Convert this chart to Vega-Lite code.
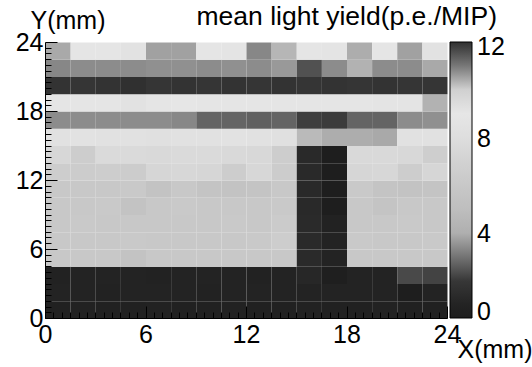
{
"$schema": "https://vega.github.io/schema/vega-lite/v6.json",
"width": 402, "height": 276,
"autosize": "none",
"padding": {"left": 45, "top": 42, "right": 85, "bottom": 49},
"background": "white",
"config": {"font": "Liberation Sans", "view": {"stroke": null}},
"title": {"text": "mean light yield(p.e./MIP)", "anchor": "end", "frame": "group", "dx": 50, "fontSize": 26.5, "fontWeight": "normal", "color": "black", "baseline": "alphabetic", "offset": -43},
"data": {"values": [
{"x":0,"y":0,"v":0.8},{"x":1.5,"y":0,"v":0.9},{"x":3,"y":0,"v":0.8},{"x":4.5,"y":0,"v":0.8},{"x":6,"y":0,"v":0.9},{"x":7.5,"y":0,"v":0.8},{"x":9,"y":0,"v":0.8},{"x":10.5,"y":0,"v":0.9},{"x":12,"y":0,"v":0.8},{"x":13.5,"y":0,"v":0.8},{"x":15,"y":0,"v":0.9},{"x":16.5,"y":0,"v":0.8},{"x":18,"y":0,"v":0.8},{"x":19.5,"y":0,"v":0.9},{"x":21,"y":0,"v":0.8},{"x":22.5,"y":0,"v":0.8},
{"x":0,"y":1.5,"v":1.0},{"x":1.5,"y":1.5,"v":1.0},{"x":3,"y":1.5,"v":0.9},{"x":4.5,"y":1.5,"v":1.0},{"x":6,"y":1.5,"v":1.0},{"x":7.5,"y":1.5,"v":1.0},{"x":9,"y":1.5,"v":0.9},{"x":10.5,"y":1.5,"v":1.0},{"x":12,"y":1.5,"v":1.0},{"x":13.5,"y":1.5,"v":1.0},{"x":15,"y":1.5,"v":1.0},{"x":16.5,"y":1.5,"v":1.0},{"x":18,"y":1.5,"v":1.0},{"x":19.5,"y":1.5,"v":1.0},{"x":21,"y":1.5,"v":0.5},{"x":22.5,"y":1.5,"v":1.0},
{"x":0,"y":3,"v":0.9},{"x":1.5,"y":3,"v":1.0},{"x":3,"y":3,"v":1.0},{"x":4.5,"y":3,"v":1.0},{"x":6,"y":3,"v":0.9},{"x":7.5,"y":3,"v":1.0},{"x":9,"y":3,"v":1.0},{"x":10.5,"y":3,"v":1.0},{"x":12,"y":3,"v":0.9},{"x":13.5,"y":3,"v":1.0},{"x":15,"y":3,"v":1.3},{"x":16.5,"y":3,"v":0.6},{"x":18,"y":3,"v":1.0},{"x":19.5,"y":3,"v":1.0},{"x":21,"y":3,"v":2.3},{"x":22.5,"y":3,"v":2.2},
{"x":0,"y":4.5,"v":6.0},{"x":1.5,"y":4.5,"v":6.0},{"x":3,"y":4.5,"v":6.0},{"x":4.5,"y":4.5,"v":5.5},{"x":6,"y":4.5,"v":6.0},{"x":7.5,"y":4.5,"v":6.0},{"x":9,"y":4.5,"v":6.0},{"x":10.5,"y":4.5,"v":6.0},{"x":12,"y":4.5,"v":6.0},{"x":13.5,"y":4.5,"v":6.0},{"x":15,"y":4.5,"v":1.5},{"x":16.5,"y":4.5,"v":1.0},{"x":18,"y":4.5,"v":6.0},{"x":19.5,"y":4.5,"v":6.0},{"x":21,"y":4.5,"v":6.0},{"x":22.5,"y":4.5,"v":6.0},
{"x":0,"y":6,"v":6.0},{"x":1.5,"y":6,"v":6.0},{"x":3,"y":6,"v":6.0},{"x":4.5,"y":6,"v":6.1},{"x":6,"y":6,"v":6.0},{"x":7.5,"y":6,"v":6.0},{"x":9,"y":6,"v":6.0},{"x":10.5,"y":6,"v":6.0},{"x":12,"y":6,"v":6.1},{"x":13.5,"y":6,"v":6.5},{"x":15,"y":6,"v":1.5},{"x":16.5,"y":6,"v":1.0},{"x":18,"y":6,"v":6.1},{"x":19.5,"y":6,"v":6.0},{"x":21,"y":6,"v":6.0},{"x":22.5,"y":6,"v":6.1},
{"x":0,"y":7.5,"v":6.0},{"x":1.5,"y":7.5,"v":6.1},{"x":3,"y":7.5,"v":6.0},{"x":4.5,"y":7.5,"v":6.0},{"x":6,"y":7.5,"v":6.0},{"x":7.5,"y":7.5,"v":6.0},{"x":9,"y":7.5,"v":6.0},{"x":10.5,"y":7.5,"v":6.1},{"x":12,"y":7.5,"v":6.0},{"x":13.5,"y":7.5,"v":6.3},{"x":15,"y":7.5,"v":1.5},{"x":16.5,"y":7.5,"v":0.9},{"x":18,"y":7.5,"v":6.0},{"x":19.5,"y":7.5,"v":6.0},{"x":21,"y":7.5,"v":6.1},{"x":22.5,"y":7.5,"v":6.0},
{"x":0,"y":9,"v":6.0},{"x":1.5,"y":9,"v":6.0},{"x":3,"y":9,"v":6.1},{"x":4.5,"y":9,"v":5.5},{"x":6,"y":9,"v":6.0},{"x":7.5,"y":9,"v":6.1},{"x":9,"y":9,"v":6.0},{"x":10.5,"y":9,"v":6.0},{"x":12,"y":9,"v":6.0},{"x":13.5,"y":9,"v":6.1},{"x":15,"y":9,"v":1.4},{"x":16.5,"y":9,"v":0.5},{"x":18,"y":9,"v":6.0},{"x":19.5,"y":9,"v":5.6},{"x":21,"y":9,"v":6.0},{"x":22.5,"y":9,"v":6.0},
{"x":0,"y":10.5,"v":6.0},{"x":1.5,"y":10.5,"v":6.0},{"x":3,"y":10.5,"v":6.0},{"x":4.5,"y":10.5,"v":6.1},{"x":6,"y":10.5,"v":5.5},{"x":7.5,"y":10.5,"v":6.0},{"x":9,"y":10.5,"v":5.6},{"x":10.5,"y":10.5,"v":5.5},{"x":12,"y":10.5,"v":5.6},{"x":13.5,"y":10.5,"v":6.0},{"x":15,"y":10.5,"v":1.4},{"x":16.5,"y":10.5,"v":0.5},{"x":18,"y":10.5,"v":6.1},{"x":19.5,"y":10.5,"v":5.6},{"x":21,"y":10.5,"v":5.5},{"x":22.5,"y":10.5,"v":5.6},
{"x":0,"y":12,"v":6.5},{"x":1.5,"y":12,"v":6.4},{"x":3,"y":12,"v":6.5},{"x":4.5,"y":12,"v":6.4},{"x":6,"y":12,"v":7.3},{"x":7.5,"y":12,"v":7.4},{"x":9,"y":12,"v":7.3},{"x":10.5,"y":12,"v":6.5},{"x":12,"y":12,"v":7.4},{"x":13.5,"y":12,"v":6.4},{"x":15,"y":12,"v":1.4},{"x":16.5,"y":12,"v":0.5},{"x":18,"y":12,"v":7.3},{"x":19.5,"y":12,"v":7.4},{"x":21,"y":12,"v":6.5},{"x":22.5,"y":12,"v":7.3},
{"x":0,"y":13.5,"v":7.4},{"x":1.5,"y":13.5,"v":6.5},{"x":3,"y":13.5,"v":7.7},{"x":4.5,"y":13.5,"v":7.7},{"x":6,"y":13.5,"v":7.6},{"x":7.5,"y":13.5,"v":7.7},{"x":9,"y":13.5,"v":7.7},{"x":10.5,"y":13.5,"v":7.6},{"x":12,"y":13.5,"v":7.5},{"x":13.5,"y":13.5,"v":6.5},{"x":15,"y":13.5,"v":1.4},{"x":16.5,"y":13.5,"v":0.5},{"x":18,"y":13.5,"v":7.6},{"x":19.5,"y":13.5,"v":7.6},{"x":21,"y":13.5,"v":7.5},{"x":22.5,"y":13.5,"v":6.6},
{"x":0,"y":15,"v":8.4},{"x":1.5,"y":15,"v":8.5},{"x":3,"y":15,"v":8.4},{"x":4.5,"y":15,"v":8.4},{"x":6,"y":15,"v":8.3},{"x":7.5,"y":15,"v":8.4},{"x":9,"y":15,"v":8.4},{"x":10.5,"y":15,"v":8.5},{"x":12,"y":15,"v":8.4},{"x":13.5,"y":15,"v":8.3},{"x":15,"y":15,"v":10.25},{"x":16.5,"y":15,"v":10.4},{"x":18,"y":15,"v":10.4},{"x":19.5,"y":15,"v":10.45},{"x":21,"y":15,"v":8.4},{"x":22.5,"y":15,"v":8.4},
{"x":0,"y":16.5,"v":10.8},{"x":1.5,"y":16.5,"v":10.8},{"x":3,"y":16.5,"v":10.8},{"x":4.5,"y":16.5,"v":10.8},{"x":6,"y":16.5,"v":10.8},{"x":7.5,"y":16.5,"v":10.85},{"x":9,"y":16.5,"v":11.2},{"x":10.5,"y":16.5,"v":11.2},{"x":12,"y":16.5,"v":11.25},{"x":13.5,"y":16.5,"v":11.2},{"x":15,"y":16.5,"v":11.75},{"x":16.5,"y":16.5,"v":11.8},{"x":18,"y":16.5,"v":11.2},{"x":19.5,"y":16.5,"v":11.2},{"x":21,"y":16.5,"v":10.8},{"x":22.5,"y":16.5,"v":10.75},
{"x":0,"y":18,"v":9.1},{"x":1.5,"y":18,"v":9.2},{"x":3,"y":18,"v":9.1},{"x":4.5,"y":18,"v":9.6},{"x":6,"y":18,"v":9.1},{"x":7.5,"y":18,"v":9.0},{"x":9,"y":18,"v":9.1},{"x":10.5,"y":18,"v":9.2},{"x":12,"y":18,"v":9.1},{"x":13.5,"y":18,"v":9.2},{"x":15,"y":18,"v":9.1},{"x":16.5,"y":18,"v":9.2},{"x":18,"y":18,"v":9.1},{"x":19.5,"y":18,"v":9.3},{"x":21,"y":18,"v":9.4},{"x":22.5,"y":18,"v":10.35},
{"x":0,"y":19.5,"v":11.95},{"x":1.5,"y":19.5,"v":11.9},{"x":3,"y":19.5,"v":11.95},{"x":4.5,"y":19.5,"v":12},{"x":6,"y":19.5,"v":11.9},{"x":7.5,"y":19.5,"v":11.95},{"x":9,"y":19.5,"v":11.9},{"x":10.5,"y":19.5,"v":11.95},{"x":12,"y":19.5,"v":11.9},{"x":13.5,"y":19.5,"v":11.95},{"x":15,"y":19.5,"v":11.9},{"x":16.5,"y":19.5,"v":11.95},{"x":18,"y":19.5,"v":11.9},{"x":19.5,"y":19.5,"v":11.95},{"x":21,"y":19.5,"v":11.9},{"x":22.5,"y":19.5,"v":11.9},
{"x":0,"y":21,"v":10.85},{"x":1.5,"y":21,"v":10.8},{"x":3,"y":21,"v":10.8},{"x":4.5,"y":21,"v":10.8},{"x":6,"y":21,"v":10.75},{"x":7.5,"y":21,"v":10.75},{"x":9,"y":21,"v":10.8},{"x":10.5,"y":21,"v":10.75},{"x":12,"y":21,"v":10.8},{"x":13.5,"y":21,"v":10.65},{"x":15,"y":21,"v":11.45},{"x":16.5,"y":21,"v":10.8},{"x":18,"y":21,"v":10.35},{"x":19.5,"y":21,"v":10.8},{"x":21,"y":21,"v":10.8},{"x":22.5,"y":21,"v":10.45},
{"x":0,"y":22.5,"v":10.45},{"x":1.5,"y":22.5,"v":9.2},{"x":3,"y":22.5,"v":9.1},{"x":4.5,"y":22.5,"v":9.6},{"x":6,"y":22.5,"v":10.55},{"x":7.5,"y":22.5,"v":10.55},{"x":9,"y":22.5,"v":9.2},{"x":10.5,"y":22.5,"v":9.3},{"x":12,"y":22.5,"v":10.85},{"x":13.5,"y":22.5,"v":10.3},{"x":15,"y":22.5,"v":9.2},{"x":16.5,"y":22.5,"v":9.3},{"x":18,"y":22.5,"v":10.4},{"x":19.5,"y":22.5,"v":9.2},{"x":21,"y":22.5,"v":10.55},{"x":22.5,"y":22.5,"v":9.6}
]},
"mark": {"type": "rect"},
"encoding": {
  "x": {"field": "x", "type": "quantitative", "bin": {"binned": true, "step": 1.5},
    "scale": {"domain": [0, 24], "nice": false, "zero": false},
    "axis": {"title": "X(mm)", "zindex": 1, "values": [0,0.5,1,1.5,2,2.5,3,3.5,4,4.5,5,5.5,6,6.5,7,7.5,8,8.5,9,9.5,10,10.5,11,11.5,12,12.5,13,13.5,14,14.5,15,15.5,16,16.5,17,17.5,18,18.5,19,19.5,20,20.5,21,21.5,22,22.5,23,23.5,24],
      "labelExpr": "datum.value % 6 === 0 ? format(datum.value, 'd') : ''", "labelFlush": false, "labelOverlap": false,
      "labelFontSize": 25, "labelColor": "black", "labelPadding": 16,
      "tickSize": {"condition": {"test": "datum.value % 6 === 0", "value": -12}, "value": -6},
      "tickColor": "black", "domainColor": "black", "grid": false,
      "titleFontSize": 25, "titleFontWeight": "normal", "titleColor": "black",
      "titleX": 487, "titleY": 39, "titleAlign": "right", "titleBaseline": "alphabetic"}},
  "y": {"field": "y", "type": "quantitative", "bin": {"binned": true, "step": 1.5},
    "scale": {"domain": [0, 24], "nice": false, "zero": false},
    "axis": {"title": "Y(mm)", "zindex": 1, "values": [0,0.5,1,1.5,2,2.5,3,3.5,4,4.5,5,5.5,6,6.5,7,7.5,8,8.5,9,9.5,10,10.5,11,11.5,12,12.5,13,13.5,14,14.5,15,15.5,16,16.5,17,17.5,18,18.5,19,19.5,20,20.5,21,21.5,22,22.5,23,23.5,24],
      "labelExpr": "datum.value % 6 === 0 ? format(datum.value, 'd') : ''", "labelFlush": false, "labelOverlap": false,
      "labelFontSize": 25, "labelColor": "black", "labelPadding": 14,
      "tickSize": {"condition": {"test": "datum.value % 6 === 0", "value": -12}, "value": -6},
      "tickColor": "black", "domainColor": "black", "grid": false,
      "titleFontSize": 25, "titleFontWeight": "normal", "titleColor": "black",
      "titleAngle": 0, "titleX": -15, "titleY": -14, "titleAlign": "left", "titleBaseline": "alphabetic"}},
  "color": {"field": "v", "type": "quantitative",
    "scale": {"domain": [0.45,1,1.5,2,2.5,3,3.5,4,5,6,7,8,9,9.8,10.2,10.5,10.8,11.2,11.6,12],
      "range": ["#1e1e1e","#232323","#2a2a2a","#373737","#555555","#737373","#919191","#afafaf","#bebebe","#c8c8c8","#d2d2d2","#dedede","#e6e6e6","#e1e1e1","#bebebe","#a5a5a5","#8c8c8c","#646464","#464646","#303030"],
      "interpolate": "rgb", "clamp": true},
    "legend": {"orient": "none", "legendX": 405, "legendY": 0, "direction": "vertical", "title": null,
      "gradientLength": 276, "gradientThickness": 22, "values": [0.45, 4, 8, 12],
      "labelExpr": "datum.value < 1 ? '0' : format(datum.value, 'd')",
      "labelFontSize": 25, "labelColor": "black", "labelOffset": 5, "padding": 0,
      "gradientStrokeColor": "black", "gradientStrokeWidth": 1,
      "encode": {"labels": {"update": {"baseline": {"value": "middle"}, "dy": {"signal": "datum.value >= 12 ? 5 : datum.value < 1 ? -6 : 1"}}}}}}
}
}
